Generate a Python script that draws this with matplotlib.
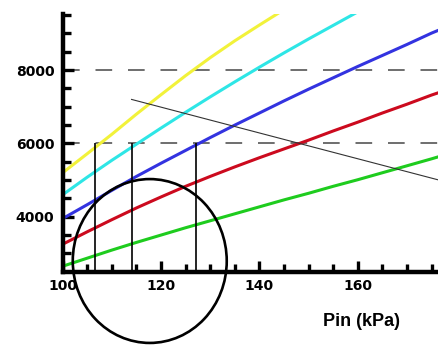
import matplotlib
matplotlib.use("Agg")
import matplotlib.pyplot as plt
from matplotlib.patches import Ellipse
import numpy as np

# Pin (kPa) grid shared by all curves
pin = [100, 105, 110, 115, 120, 125, 130, 135, 140, 145, 150, 155, 160, 165, 170, 175, 177]

yellow = [5200, 5720, 6250, 6800, 7330, 7850, 8340, 8800, 9230, 9650]
cyan = [4600, 5080, 5540, 5980, 6420, 6850, 7270, 7680, 8080, 8470, 8850, 9220, 9590, 9950]
blue = [3950, 4330, 4720, 5100, 5460, 5810, 6160, 6500, 6830, 7160, 7480, 7790, 8100, 8400, 8700, 9010, 9120]
red = [3250, 3590, 3920, 4240, 4540, 4830, 5100, 5360, 5610, 5850, 6090, 6340, 6580, 6830, 7070, 7320, 7410]
green = [2650, 2870, 3090, 3300, 3500, 3700, 3890, 4080, 4270, 4460, 4640, 4830, 5010, 5200, 5390, 5580, 5660]

curves = [
    (yellow, '#f2f23a'),
    (cyan, '#2ee6e6'),
    (blue, '#3333e0'),
    (red, '#cc0a1e'),
    (green, '#1ecc1e'),
]

# thin black line
line_x = [114, 176.5]
line_y = [7200, 5000]

# dashed reference levels and vertical markers
h_levels = [6000, 8000]
v_marks = [106.6, 114.1, 127.2]
v_top = 6000

# circle
circ_center = (117.7, 2792)
circ_w = 31.3
circ_h = 4470

fig = plt.figure(figsize=(4.39, 3.46), dpi=100)
ax = fig.add_axes([0.1428, 0.2147, 0.8572, 0.7448])

for vals, col in curves:
    ax.plot(pin[:len(vals)], vals, color=col, lw=2.2, solid_capstyle='butt')

for lvl in h_levels:
    ax.axhline(lvl, color='#555555', lw=1.2, dashes=(10, 9.5), zorder=1)

ax.vlines(v_marks, 2500, v_top, color='black', lw=1.2)
ax.plot(line_x, line_y, color='#333333', lw=0.8)

ax.add_patch(Ellipse(circ_center, circ_w, circ_h, fill=False, ec='black',
                     lw=1.9, clip_on=False, zorder=5))

ax.set_xlim(100, 176.5)
ax.set_ylim(2500, 9530)

for s in ['top', 'right']:
    ax.spines[s].set_visible(False)
for s in ['left', 'bottom']:
    ax.spines[s].set_linewidth(3.2)

ax.set_xticks([100, 120, 140, 160])
ax.set_xticks(np.arange(105, 180, 5), minor=True)
ax.set_yticks([4000, 6000, 8000])
ax.set_yticks(np.arange(3000, 9600, 500), minor=True)

ax.tick_params(which='both', direction='in', width=2.4, color='black')
ax.tick_params(which='major', length=8)
ax.tick_params(which='minor', length=6)
ax.tick_params(axis='y', which='major', pad=6)
ax.tick_params(axis='x', which='major', pad=5)

for lab in ax.get_xticklabels() + ax.get_yticklabels():
    lab.set_fontfamily('DejaVu Sans')
    lab.set_fontweight('bold')
    lab.set_fontsize(10)

ax.set_xlabel('Pin (kPa)', fontfamily='Liberation Sans', fontweight='bold',
              fontsize=13, x=0.793, labelpad=15)

fig.savefig('out.png', dpi=100)
